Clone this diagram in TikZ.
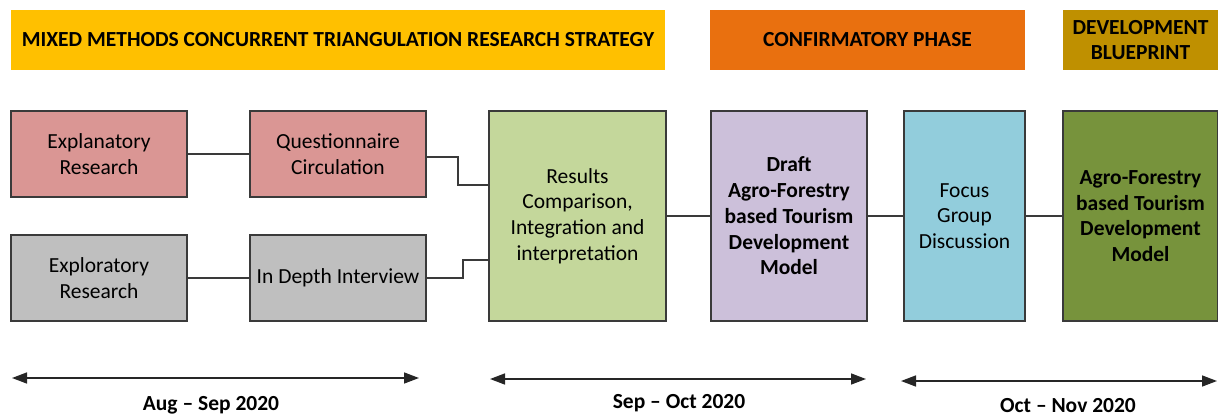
\documentclass[tikz,border=0pt]{standalone}
\usepackage{fontspec}
\setmainfont{Carlito}
\usetikzlibrary{arrows.meta}

\definecolor{headyellow}{HTML}{FFC000}
\definecolor{headorange}{HTML}{E9700F}
\definecolor{headgold}{HTML}{BF9000}
\definecolor{boxrose}{HTML}{DA9694}
\definecolor{boxgray}{HTML}{BFBFBF}
\definecolor{boxlime}{HTML}{C4D79B}
\definecolor{boxlilac}{HTML}{CCC0DA}
\definecolor{boxsky}{HTML}{92CDDC}
\definecolor{boxolive}{HTML}{77933C}
\definecolor{edge}{HTML}{3A3A3A}

\begin{document}
\begin{tikzpicture}[x=1pt,y=-1pt,
  txt/.style={font=\fontsize{21.5}{25.7}\selectfont},
  boldtxt/.style={font=\bfseries\fontsize{21.5}{25.7}\selectfont},
  sized/.style 2 args={minimum width=#1pt, minimum height=#2pt},
  head/.style={inner sep=0pt, align=center, boldtxt},
  stage/.style={draw=edge, line width=1.3pt, inner sep=0pt, align=center, txt},
  link/.style={draw=edge, line width=1.2pt},
  span/.style={line width=1.5pt, draw=black!85,
    {Triangle[length=15pt,width=11pt]}-{Triangle[length=15pt,width=11pt]}},
  period/.style={anchor=base, inner sep=0pt, boldtxt}]

\useasboundingbox (0,0) rectangle (1218,415);

% phase headers
\node[head, sized={654}{60}, fill=headyellow] (h1) at (338,40)
  {MIXED METHODS CONCURRENT TRIANGULATION RESEARCH STRATEGY};
\node[head, sized={315}{60}, fill=headorange] (h2) at (867.5,40)
  {CONFIRMATORY PHASE};
\node[head, sized={155}{60}, fill=headgold] (h3) at (1140.5,40)
  {DEVELOPMENT\\BLUEPRINT};

% research stages
\node[stage, sized={176}{86}, fill=boxrose] (exr) at (99,154)
  {Explanatory\\Research};
\node[stage, sized={176}{86}, fill=boxrose] (qc) at (338,154)
  {Questionnaire\\Circulation};
\node[stage, sized={176}{86}, fill=boxgray] (exp) at (99,278)
  {Exploratory\\Research};
\node[stage, sized={176}{86}, fill=boxgray] (idi) at (338,278)
  {In Depth Interview};
\node[stage, sized={177}{210}, fill=boxlime] (res) at (577.5,216)
  {Results\\Comparison,\\Integration and\\interpretation};
\node[stage, sized={156}{210}, fill=boxlilac, boldtxt] (dr) at (789,216)
  {Draft\\Agro-Forestry\\based Tourism\\Development\\Model};
\node[stage, sized={121}{210}, fill=boxsky] (fg) at (964.5,216)
  {Focus\\Group\\Discussion};
\node[stage, sized={155}{210}, fill=boxolive, boldtxt] (fin) at (1140.5,216)
  {Agro-Forestry\\based Tourism\\Development\\Model};

% connectors
\draw[link] (exr.east) -- (qc.west);
\draw[link] (exp.east) -- (idi.west);
\draw[link] ([yshift=-3pt]qc.east) -| (458,185) -- (res.west |- 458,185);
\draw[link] (idi.east) -| (463,260) -- (res.west |- 463,260);
\draw[link] (res.east) -- (dr.west);
\draw[link] (dr.east) -- (fg.west);
\draw[link] (fg.east) -- (fin.west);

% timeline
\coordinate (a1) at (12,378);   \coordinate (b1) at (419,378);
\coordinate (a2) at (490,379);  \coordinate (b2) at (866,379);
\coordinate (a3) at (901,381);  \coordinate (b3) at (1217,381);
\draw[span] (a1) -- (b1);
\draw[span] (a2) -- (b2);
\draw[span] (a3) -- (b3);
\node[period] (p1) at (211,410) {Aug – Sep 2020};
\node[period] (p2) at (679,408) {Sep – Oct 2020};
\node[period] (p3) at (1068,412) {Oct – Nov 2020};
\end{tikzpicture}
\end{document}
